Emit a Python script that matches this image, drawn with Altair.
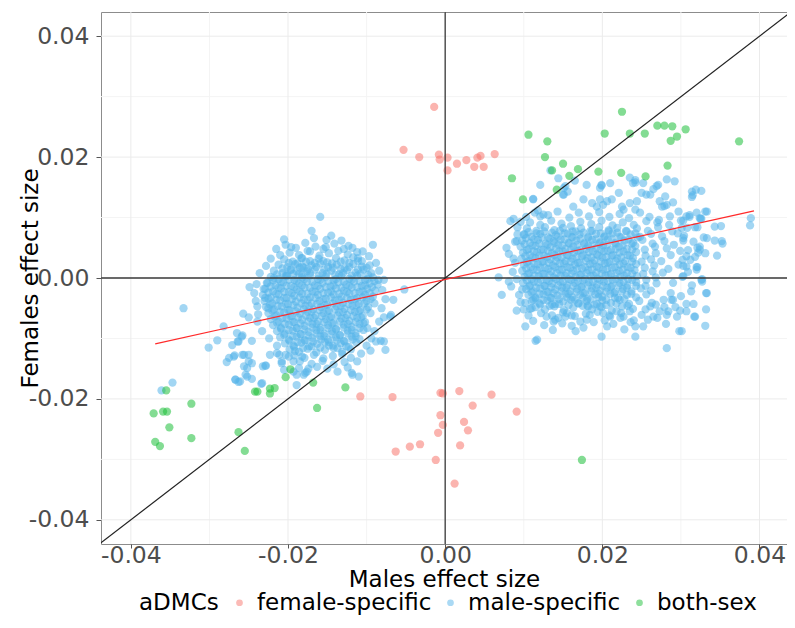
import altair as alt
import pandas as pd

# ---- data (units of 1e-4) ----
female_pts = """-14,283 -53,212 -33,200 -8,204 -7,196 3,199 3,178 15,189 27,195 37,184 41,199 45,202 49,184 63,205
-67,-197 -6,-190 -3,-191 18,-187 59,-193 35,-211 91,-221 -6,-227 -3,-243 24,-238 29,-252 -9,-256 -32,-275
-45,-279 -63,-287 19,-277 -12,-301 12,-340 -108,-196"""

both_pts = """225,275 106,237 130,226 203,239 235,239 254,239 270,252 279,252 289,251 306,246 287,227 295,234 374,226
127,200 150,189 136,178 169,180 158,169 195,176 224,174 255,168 283,186 85,165 142,146 99,130 174,-301
-355,-186 -323,-208 -371,-224 -359,-221 -354,-221 -351,-247 -323,-265 -369,-271 -363,-278 -263,-255 -255,-286
-242,-188 -239,-188 -223,-183 -217,-182 -223,-191 -203,-164 -197,-151 -168,-173 -127,-181 -163,-215"""

male_right_core = """108,92 121,88 135,95 148,90 160,86 172,93 186,89 199,95 213,87 226,92 240,88 256,94
104,82 116,78 127,84 139,79 150,83 162,77 173,82 185,78 196,84 208,79 219,83 231,77 244,82 258,78 271,84
101,72 110,68 121,73 131,67 141,71 152,74 161,68 171,72 182,66 192,73 203,69 213,74 224,67 236,72 248,68 262,73 276,69
98,62 108,58 118,63 128,57 138,61 147,64 157,58 167,62 177,56 187,63 197,59 207,64 217,57 228,62 239,58 251,63 264,57 279,61
96,52 106,48 115,53 125,47 134,51 144,55 153,48 163,52 172,46 182,53 192,49 201,54 211,47 221,52 231,48 242,53 254,47 267,52 282,49
99,42 108,38 117,43 126,37 136,41 145,44 155,38 164,42 174,36 183,43 193,39 202,44 212,37 222,42 232,38 243,43 255,37 268,41
97,32 106,28 115,33 125,27 134,31 143,34 153,28 162,32 171,26 181,33 190,29 200,34 209,27 219,32 229,28 239,33 250,27 262,31 275,28
100,22 109,18 118,23 127,17 137,21 146,24 155,18 165,22 174,16 184,23 193,19 203,24 212,17 222,22 232,18 243,23 254,17 266,21
98,12 107,8 117,13 126,7 135,11 145,14 154,8 163,12 173,6 182,13 192,9 201,14 211,7 221,12 231,8 241,13 252,7 264,11 277,9
101,2 110,-2 119,3 129,-3 138,1 147,4 157,-2 166,2 175,-4 185,3 194,-1 204,4 213,-3 223,2 233,-2 244,3 256,-3 268,1
99,-8 108,-12 118,-7 127,-13 136,-9 146,-6 155,-12 165,-8 174,-14 183,-7 193,-11 202,-6 212,-13 222,-8 232,-12 243,-7 255,-13 269,-9
103,-18 112,-22 121,-17 131,-23 140,-19 149,-16 159,-22 168,-18 178,-24 187,-17 197,-21 206,-16 216,-23 226,-18 237,-22 249,-17 262,-21
106,-28 115,-32 125,-27 134,-33 143,-29 153,-26 162,-32 172,-28 181,-34 191,-27 200,-31 210,-26 220,-33 231,-28 243,-32 256,-27
110,-38 120,-42 130,-37 140,-43 150,-39 160,-36 170,-42 180,-38 190,-44 200,-37 211,-41 222,-36 234,-43 247,-38
115,-48 127,-52 139,-47 151,-53 163,-49 175,-46 187,-52 199,-48 212,-54 225,-47 239,-51
122,-58 136,-62 150,-57 165,-63 179,-59 194,-56 209,-62 224,-58"""

male_right_core2 = """106,76 116,74 126,77 136,75 146,78 156,74 166,77 176,75 187,78 198,74 208,77 219,75 230,78 242,74
103,66 113,64 123,67 133,65 143,68 152,64 162,67 172,65 182,68 192,64 202,67 212,65 222,68 233,64 245,67
101,56 111,54 120,57 130,55 139,58 149,54 158,57 168,55 177,58 187,54 196,57 206,55 216,58 226,54 237,57
104,46 113,44 122,47 131,45 141,48 150,44 160,47 169,45 179,48 188,44 198,47 207,45 217,48 227,44 238,47
102,36 111,34 120,37 130,35 139,38 148,34 157,37 167,35 176,38 186,34 195,37 205,35 214,38 224,34 235,37
104,26 113,24 123,27 132,25 141,28 151,24 160,27 169,25 179,28 188,24 198,27 207,25 217,28 227,24 238,27
103,16 112,14 121,17 131,15 140,18 149,14 159,17 168,15 178,18 187,14 196,17 206,15 216,18 226,14 236,17
105,6 114,4 124,7 133,5 142,8 152,4 161,7 171,5 180,8 189,4 199,7 208,5 218,8 228,4 238,7
104,-4 113,-6 122,-3 132,-5 141,-2 150,-6 160,-3 169,-5 178,-2 188,-6 197,-3 207,-5 217,-2 227,-6 238,-3
107,-14 116,-16 126,-13 135,-15 144,-12 154,-16 163,-13 173,-15 182,-12 192,-16 201,-13 211,-15 221,-12 231,-16 243,-13
110,-24 120,-26 129,-23 138,-25 148,-22 157,-26 167,-23 176,-25 186,-22 195,-26 205,-23 215,-25 225,-22 237,-26
115,-34 125,-36 135,-33 145,-35 155,-32 165,-36 175,-33 185,-35 195,-32 205,-36 216,-33 228,-35
121,-44 133,-46 145,-43 157,-45 169,-42 181,-46 193,-43 205,-45 218,-42 232,-46"""

male_right_halo = """121,154 112,131 151,149 156,143 150,138 83,94 87,98 114,108 125,105 100,72 91,61 78,50 81,40 89,25
68,1 81,-6 91,-2 72,-28 98,-19 102,-41 91,-54 102,-80 115,-104 129,-64 138,-72 144,-66 153,-64 161,-62 161,-79
172,-72 117,-102 110,-50 112,-36 263,-41 278,-36 290,-36 284,-55 282,-61 265,-64 295,-64 281,-76 298,-88 242,-80
206,-80 199,-97 242,-97 223,-66 210,-64 184,-61 182,-47 197,-47 218,-55 235,-55 282,-116 331,-79 318,-64 332,-52
307,-43 299,-54 108,-51 136,-44 140,-69 155,-58 180,-69 201,-58 227,-64 240,-70 250,-61 261,-47 273,-55 288,-36
316,-43 199,154 197,149 210,157 239,157 242,162 221,141 269,152 271,154 292,160 282,163 261,138 250,141 244,127
280,135 282,121 276,118 290,125 187,124 197,130 201,121 235,124 227,113 134,178 144,165 153,152 165,161 180,154
199,153 212,130 235,166 242,158 252,157 256,138 265,147 273,127 279,119 242,113 225,118 206,127 193,118 176,130
163,118 151,138 121,102 112,130 314,143 319,146 326,144 307,102 324,99 331,110 343,85 352,61 324,52 331,41 346,37
326,-3 333,-25 307,36 307,19 389,99 388,87 285,88 296,74 308,83 291,55 303,66 316,60 287,38 299,45 312,30 322,42
284,15 297,22 309,10 321,18 290,-8 302,2 314,-12 327,-6 287,-25 300,-30 313,-22 293,-48 307,-55 320,14 333,66
318,84 325,98 311,104 300,95 315,137 314,134 320,108 333,110 311,101 303,95 326,98 321,84 351,86 329,67 304,70
303,62 343,62 353,57 309,46 321,50 324,47 318,35 302,30 303,20 320,18 303,3 327,-2 332,-25 317,-64 301,-88
92,84 96,93 103,101 118,112 131,104 143,110 158,100 170,108 183,102 196,109 209,101 222,106 234,99 248,108
260,101 272,96 286,102 297,110 289,77 301,83 270,92 94,-28 96,-40 100,-52 106,-62 112,-71 126,-78 137,-86
149,-75 166,-88 176,-82 189,-73 203,-70 214,-76 228,-85 236,-73 252,-80 258,-69 270,-66 279,-48 268,-44 255,-52
86,10 84,-14 87,32 89,60 92,72"""

male_left_core = """-198,42 -186,38 -172,44 -160,37 -148,41 -136,45 -124,39 -112,43
-205,31 -194,27 -183,33 -172,28 -161,32 -150,26 -139,33 -128,29 -117,34 -106,28
-212,22 -201,18 -191,23 -180,17 -170,21 -159,24 -149,18 -138,22 -128,16 -117,23 -106,19 -96,21
-218,12 -207,8 -197,13 -186,7 -176,11 -166,14 -156,8 -145,12 -135,6 -125,13 -114,9 -104,14 -94,8
-222,2 -212,-2 -202,3 -192,-3 -182,1 -172,4 -162,-2 -152,2 -142,-4 -132,3 -122,-1 -112,4 -102,-3 -92,1
-226,-8 -216,-12 -206,-7 -196,-13 -186,-9 -176,-6 -166,-12 -156,-8 -146,-14 -136,-7 -126,-11 -116,-6 -106,-13 -96,-9 -86,-11
-229,-18 -219,-22 -209,-17 -199,-23 -189,-19 -179,-16 -169,-22 -159,-18 -149,-24 -139,-17 -129,-21 -119,-16 -109,-23 -99,-18 -89,-21
-232,-28 -222,-32 -212,-27 -202,-33 -192,-29 -182,-26 -172,-32 -162,-28 -152,-34 -142,-27 -132,-31 -122,-26 -112,-33 -102,-28 -92,-31
-230,-38 -220,-42 -210,-37 -200,-43 -190,-39 -180,-36 -170,-42 -160,-38 -150,-44 -140,-37 -130,-41 -120,-36 -110,-43 -100,-38 -90,-42
-228,-48 -218,-52 -208,-47 -198,-53 -188,-49 -178,-46 -168,-52 -158,-48 -148,-54 -138,-47 -128,-51 -118,-46 -108,-53 -98,-48
-225,-58 -215,-62 -205,-57 -195,-63 -185,-59 -175,-56 -165,-62 -155,-58 -145,-64 -135,-57 -125,-61 -115,-56 -105,-63 -95,-58
-222,-68 -212,-72 -202,-67 -192,-73 -182,-69 -172,-66 -162,-72 -152,-68 -142,-74 -132,-67 -122,-71 -112,-66 -102,-73
-219,-78 -209,-82 -199,-77 -189,-83 -179,-79 -169,-76 -159,-82 -149,-78 -139,-84 -129,-77 -119,-81 -109,-76 -99,-83
-214,-88 -204,-92 -194,-87 -184,-93 -174,-89 -164,-86 -154,-92 -144,-88 -134,-94 -124,-87 -114,-91 -104,-86
-210,-98 -199,-102 -189,-97 -179,-103 -169,-99 -159,-96 -149,-102 -139,-98 -129,-104 -119,-97 -109,-101
-204,-108 -193,-112 -183,-107 -173,-113 -163,-109 -153,-106 -143,-112 -133,-108 -123,-114 -113,-107
-198,-118 -186,-122 -175,-117 -164,-123 -153,-119 -142,-116 -131,-122 -120,-118
-192,-128 -179,-132 -167,-127 -155,-133 -143,-129 -131,-126 -120,-132
-185,-138 -170,-142 -156,-137 -142,-143 -128,-139"""

male_left_core2 = """-199,25 -188,24 -177,27 -166,25 -155,28 -144,24 -133,27 -122,25 -111,28
-207,16 -196,14 -185,17 -175,15 -164,18 -154,14 -143,17 -133,15 -122,18 -111,14 -100,17
-214,6 -203,4 -193,7 -182,5 -172,8 -161,4 -151,7 -140,5 -130,8 -119,4 -108,7 -98,5
-219,-4 -209,-6 -199,-3 -189,-5 -179,-2 -169,-6 -159,-3 -149,-5 -139,-2 -129,-6 -119,-3 -109,-5 -99,-2 -90,-5
-222,-14 -212,-16 -202,-13 -192,-15 -182,-12 -172,-16 -162,-13 -152,-15 -142,-12 -132,-16 -122,-13 -112,-15 -102,-12 -93,-15
-225,-24 -215,-26 -205,-23 -195,-25 -185,-22 -175,-26 -165,-23 -155,-25 -145,-22 -135,-26 -125,-23 -115,-25 -105,-22 -96,-25
-225,-34 -215,-36 -205,-33 -195,-35 -185,-32 -175,-36 -165,-33 -155,-35 -145,-32 -135,-36 -125,-33 -115,-35 -105,-32 -95,-35
-223,-44 -213,-46 -203,-43 -193,-45 -183,-42 -173,-46 -163,-43 -153,-45 -143,-42 -133,-46 -123,-43 -113,-45 -103,-42
-220,-54 -210,-56 -200,-53 -190,-55 -180,-52 -170,-56 -160,-53 -150,-55 -140,-52 -130,-56 -120,-53 -110,-55 -100,-52
-217,-64 -207,-66 -197,-63 -187,-65 -177,-62 -167,-66 -157,-63 -147,-65 -137,-62 -127,-66 -117,-63 -107,-65
-214,-74 -204,-76 -194,-73 -184,-75 -174,-72 -164,-76 -154,-73 -144,-75 -134,-72 -124,-76 -114,-73 -104,-75
-209,-84 -199,-86 -189,-83 -179,-85 -169,-82 -159,-86 -149,-83 -139,-85 -129,-82 -119,-86 -109,-83
-205,-94 -194,-96 -184,-93 -174,-95 -164,-92 -154,-96 -144,-93 -134,-95 -124,-92 -114,-96
-198,-104 -188,-106 -178,-103 -168,-105 -158,-102 -148,-106 -138,-103 -128,-105 -118,-102
-192,-114 -181,-116 -170,-113 -159,-115 -148,-112 -137,-116 -126,-113"""

male_left_halo = """-333,-50 -347,-173 -361,-186 -282,-80 -301,-115 -290,-103 -278,-139 -271,-111 -268,-128 -264,-105 -258,-127
-257,-59 -250,-65 -249,-15 -243,-25 -239,-47 -231,-18 -229,-33 -227,-8 -225,-50 -239,-72 -258,-95 -267,-168
-261,-171 -252,-163 -256,-146 -250,-127 -246,-141 -234,-175 -229,-145 -223,-127 -211,-127 -208,-141 -205,-152
-193,-155 -189,-177 -178,-157 -182,33 -189,11 -167,66 -159,101 -151,63 -152,51 -129,48 -123,53 -92,55 -111,33
-119,-157 -110,-163 -78,-105 -76,-119 -66,-36 -70,-64 -78,-3 -85,-3 -52,-19 -69,-61 -78,-65 -88,-105 -82,-104
-95,-120 -112,-138 -118,-160 -189,-160 -176,-155 -218,0 -201,5 -182,19 -265,-91 -259,-97 -246,-104 -263,-105
-275,-132 -269,-130 -256,-127 -250,-138 -252,-149 -254,-160 -267,-168 -263,-172 -246,-167 -233,-174 -232,-146
-228,-145 -208,-138 -214,-124 -203,-127 -191,-121 -182,-130 -186,-149 -180,-160 -193,-138
-215,48 -203,55 -190,50 -178,58 -165,52 -141,57 -132,62 -118,50 -105,44 -97,36 -88,25 -84,12 -80,-20 -76,-35
-81,-50 -84,-72 -90,-88 -94,-100 -100,-112 -107,-125 -124,-148 -137,-155 -150,-150 -163,-147 -174,-150
-199,-130 -214,-112 -224,-100 -233,-88 -238,-60 -241,-38 -240,-10 -236,8 -228,20 -222,32 -210,38 -175,45
-155,48 -196,51 -145,70 -170,78 -205,64"""

categories = ["female-specific", "male-specific", "both-sex"]
colors = ["#F8766D", "#56B4E9", "#1DBF3A"]

fit_x = [-0.0369, 0.0393]
fit_y = [-0.0109, 0.0111]
diag_vals = [-0.044, 0.044]
major_grid = [-0.04, -0.02, 0.0, 0.02, 0.04]
minor_grid = [-0.03, -0.01, 0.01, 0.03]
tick_vals = [-0.04, -0.02, 0.0, 0.02, 0.04]
x_domain = [-0.0438, 0.0435]
y_domain = [-0.044, 0.044]


def parse(s):
    out = []
    for tok in s.split():
        a, b = tok.split(",")
        out.append((int(a) / 10000.0, int(b) / 10000.0))
    return out


rows = []
for s in (male_right_core, male_right_core2, male_right_halo,
          male_left_core, male_left_core2, male_left_halo):
    for x, y in parse(s):
        rows.append({"x": x, "y": y, "aDMCs": "male-specific"})
for x, y in parse(female_pts):
    rows.append({"x": x, "y": y, "aDMCs": "female-specific"})
for x, y in parse(both_pts):
    rows.append({"x": x, "y": y, "aDMCs": "both-sex"})
pts_df = pd.DataFrame(rows)

xs = alt.Scale(domain=x_domain, nice=False, zero=False)
ys = alt.Scale(domain=y_domain, nice=False, zero=False)
LBL = "replace(format(datum.value, '.2f'), '\u2212', '-')"

grid_major_df = pd.DataFrame({"v": major_grid})
grid_minor_df = pd.DataFrame({"v": minor_grid})

gmin_v = alt.Chart(grid_minor_df).mark_rule(color="#F4F4F4", strokeWidth=1).encode(x=alt.X("v:Q", scale=xs))
gmin_h = alt.Chart(grid_minor_df).mark_rule(color="#F4F4F4", strokeWidth=1).encode(y=alt.Y("v:Q", scale=ys))
gmaj_v = alt.Chart(grid_major_df).mark_rule(color="#EBEBEB", strokeWidth=1).encode(x=alt.X("v:Q", scale=xs))
gmaj_h = alt.Chart(grid_major_df).mark_rule(color="#EBEBEB", strokeWidth=1).encode(y=alt.Y("v:Q", scale=ys))

points = alt.Chart(pts_df).mark_circle(size=68, opacity=0.55, strokeWidth=0).encode(
    x=alt.X("x:Q", scale=xs, title="Males effect size",
            axis=alt.Axis(values=tick_vals, labelExpr=LBL, grid=False)),
    y=alt.Y("y:Q", scale=ys, title="Females effect size",
            axis=alt.Axis(values=tick_vals, labelExpr=LBL, grid=False)),
    color=alt.Color("aDMCs:N", scale=alt.Scale(domain=categories, range=colors),
                    legend=alt.Legend(title="aDMCs", orient="none", direction="horizontal",
                                      titleOrient="left", legendX=38, legendY=579,
                                      symbolType="circle", symbolSize=45, symbolOpacity=0.5,
                                      symbolStrokeWidth=0, labelFontSize=23, titleFontSize=23,
                                      titleFontWeight="normal", labelColor="#000000",
                                      titleColor="#000000", labelFont="DejaVu Sans",
                                      titleFont="DejaVu Sans", columnPadding=7, labelOffset=6,
                                      titlePadding=9, labelLimit=300)),
)

zero_df = pd.DataFrame({"v": [0.0]})
hline = alt.Chart(zero_df).mark_rule(color="#3a3a3a", strokeWidth=1.3).encode(y=alt.Y("v:Q", scale=ys))
vline = alt.Chart(zero_df).mark_rule(color="#3a3a3a", strokeWidth=1.3).encode(x=alt.X("v:Q", scale=xs))

diag_df = pd.DataFrame({"x": diag_vals, "y": diag_vals})
diag = alt.Chart(diag_df).mark_line(color="#222222", strokeWidth=1.2, clip=True).encode(
    x=alt.X("x:Q", scale=xs), y=alt.Y("y:Q", scale=ys))

fit_df = pd.DataFrame({"x": fit_x, "y": fit_y})
fit = alt.Chart(fit_df).mark_line(color="#FF2A2A", strokeWidth=1.2).encode(
    x=alt.X("x:Q", scale=xs), y=alt.Y("y:Q", scale=ys))

chart = alt.layer(gmin_v, gmin_h, gmaj_v, gmaj_h, points, hline, vline, diag, fit).properties(
    width=686, height=532,
    autosize=alt.AutoSizeParams(type="none"),
    padding={"left": 93, "top": 4, "right": 0, "bottom": 72},
).configure_view(
    stroke="#8c8c8c", strokeWidth=1
).configure_axis(
    labelFont="DejaVu Sans", titleFont="DejaVu Sans",
    labelFontSize=23.5, titleFontSize=23, labelColor="#4D4D4D", titleColor="#000000",
    titleFontWeight="normal", domain=False, ticks=True, tickColor="#555555",
)
chart = chart.configure_axisY(
    titleAngle=270, titleX=-71, titleY=266, titleAlign="center", titleBaseline="middle",
    tickSize=5, labelPadding=7,
).configure_axisX(
    tickSize=4, labelPadding=-5, titleBaseline="top", titleY=24,
)

chart.save("out.html", embed_options={"renderer": "svg", "actions": False})
